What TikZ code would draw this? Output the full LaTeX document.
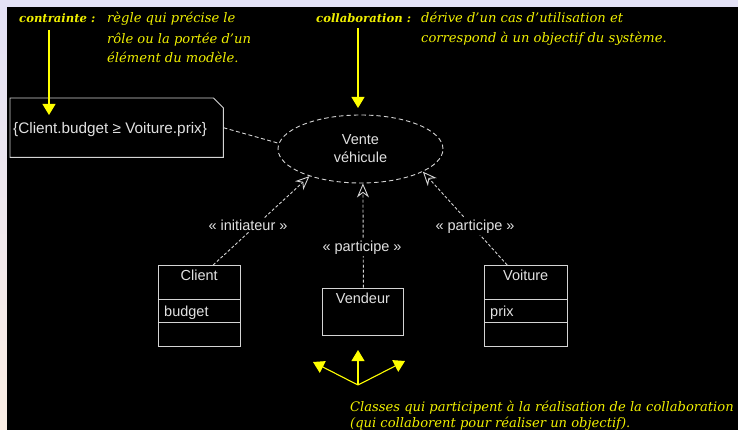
\documentclass[tikz,border=0pt]{standalone}
\usepackage{fontspec}
\setmainfont{Liberation Sans}
\newfontfamily\remarkfont{DejaVu Serif}
\usetikzlibrary{arrows.meta,shapes.geometric,calc}

\definecolor{umlgray}{RGB}{212,212,212}
\definecolor{umltext}{RGB}{225,225,225}
\definecolor{hlyellow}{RGB}{255,255,0}
\definecolor{remarkyellow}{RGB}{240,240,0}
\definecolor{frametop}{RGB}{228,226,246}
\definecolor{framebottom}{RGB}{251,238,228}

\begin{document}
\begin{tikzpicture}[x=1pt,y=-1pt,
  umlline/.style={draw=umlgray, line width=0.9pt},
  classbox/.style={umlline, rectangle, anchor=north west, inner sep=0pt},
  umllabel/.style={text=umltext, font=\fontsize{14.5}{16}\selectfont, inner sep=0pt},
  stereo/.style={umllabel, fill=black, inner xsep=2pt, inner ysep=2pt},
  depend/.style={umlline, dash pattern=on 3pt off 2pt,
    -{Stealth[open, length=14pt, width=12pt, inset=4.5pt, fill=black, line width=0.9pt]}},
  remark/.style={text=remarkyellow, anchor=base west, inner sep=0pt,
    font=\remarkfont\itshape\fontsize{13.1}{15}\selectfont},
  remarkhead/.style={remark, font=\remarkfont\bfseries\itshape\fontsize{11.6}{14}\selectfont},
  pointer/.style={draw=hlyellow, line width=1.1pt,
    -{Triangle[length=11pt, width=13pt]}, hlyellow}
]
% page frame
\useasboundingbox (0,0) rectangle (738,430);
\fill[frametop] (0,0) rectangle (738,7);
\shade[top color=frametop, bottom color=framebottom] (0,0) rectangle (7,430);
\fill[black] (7,7) rectangle (738,430);
\clip (7,7) rectangle (738,430);

% explanatory remarks
\node[remarkhead] (contrainte) at (19,22.7) {contrainte :};
\node[remark] (contrainteA) at (107,22.7) {règle qui précise le};
\node[remark] (contrainteB) at (107,43.3) {rôle ou la portée d’un};
\node[remark] (contrainteC) at (107,62.7) {élément du modèle.};

\node[remarkhead] (collab) at (316,22.7) {collaboration :};
\node[remark] (collabA) at (421,22.7) {dérive d’un cas d’utilisation et};
\node[remark] (collabB) at (421,42.3) {correspond à un objectif du système.};

\node[remark] (classesA) at (350,411) {Classes qui participent à la réalisation de la collaboration};
\node[remark] (classesB) at (350,427.5) {(qui collaborent pour réaliser un objectif).};

% constraint note
\node[rectangle, minimum width=213, minimum height=59, inner sep=0pt, anchor=north west]
  (note) at (10,98) {};
\draw[umlline] (note.north west) -- ($(note.north east)+(-10,0)$) -- ($(note.north east)+(0,10)$)
  -- (note.south east) -- (note.south west) -- cycle;
\node[umllabel, anchor=base west, font=\fontsize{15.3}{17}\selectfont] (notetext) at (13,134)
  {\{Client.budget ≥ Voiture.prix\}};

% use case
\node[ellipse, umlline, dash pattern=on 4.5pt off 3pt, minimum width=165, minimum height=68,
  inner sep=0pt] (usecase) at (360.5,149) {};
\node[umllabel, anchor=base] (ucA) at (360.5,145) {Vente};
\node[umllabel, anchor=base] (ucB) at (360.5,163) {véhicule};

% classes
\node[classbox, minimum width=82.5, minimum height=81] (client) at (157.5,265) {};
\draw[umlline] ($(client.north west)+(0,34)$) -- ($(client.north east)+(0,34)$);
\draw[umlline] ($(client.north west)+(0,57.7)$) -- ($(client.north east)+(0,57.7)$);
\node[umllabel, anchor=base] (clientname) at ($(client.north)+(0,15)$) {Client};
\node[umllabel, anchor=base west] (clientattr) at ($(client.north west)+(6.5,51.7)$) {budget};

\node[classbox, minimum width=81.5, minimum height=47.3] (vendeur) at (321.7,287.7) {};
\node[umllabel, anchor=base] (vendeurname) at ($(vendeur.north)+(0,15.3)$) {Vendeur};

\node[classbox, minimum width=82.5, minimum height=81] (voiture) at (484,265) {};
\draw[umlline] ($(voiture.north west)+(0,34)$) -- ($(voiture.north east)+(0,34)$);
\draw[umlline] ($(voiture.north west)+(0,57.7)$) -- ($(voiture.north east)+(0,57.7)$);
\node[umllabel, anchor=base] (voiturename) at ($(voiture.north)+(0,15)$) {Voiture};
\node[umllabel, anchor=base west] (voitureattr) at ($(voiture.north west)+(6,51.7)$) {prix};

% dependencies towards the collaboration
\draw[umlline, dash pattern=on 4pt off 2.5pt] (note.east) -- (usecase.176);
\draw[depend] ($(client.north)+(14,0)$) -- (usecase.208);
\draw[depend] ($(vendeur.north)+(0.5,0)$) -- (usecase.-86);
\draw[depend] ($(voiture.north)+(-18.5,0)$) -- (usecase.-20);
\node[stereo] (initiateur) at (248,225) {« initiateur »};
\node[stereo] (participeA) at (362,247.5) {« participe »};
\node[stereo] (participeB) at (475,226.5) {« participe »};

% yellow pointers
\coordinate (contrainteFoot) at (49,30);
\coordinate (contrainteTip) at (49,115);
\draw[pointer] (contrainteFoot) -- (contrainteTip);
\coordinate (collabFoot) at (358,28);
\coordinate (collabTip) at (358,108);
\draw[pointer] (collabFoot) -- (collabTip);
\coordinate (hub) at (358,385);
\coordinate (hubLeft) at (313,362);
\coordinate (hubUp) at (358,350);
\coordinate (hubRight) at (405,361);
\draw[pointer] (hub) -- (hubLeft);
\draw[pointer] (hub) -- (hubUp);
\draw[pointer] (hub) -- (hubRight);
\end{tikzpicture}
\end{document}
